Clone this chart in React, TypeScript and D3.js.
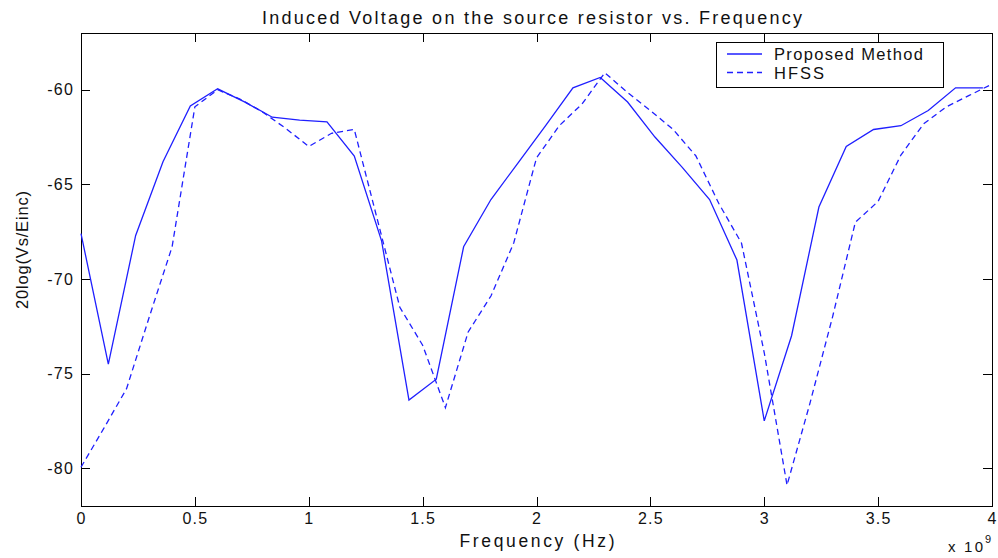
import * as d3 from "d3";
import { useEffect, useRef } from "react";

// frequency in GHz (axis shows x 10^9), response in dB
const proposedFreq = [0, 0.12, 0.24, 0.36, 0.48, 0.6, 0.72, 0.84, 0.96, 1.08, 1.2, 1.32, 1.44, 1.56, 1.68, 1.8, 1.92, 2.04, 2.16, 2.28, 2.4, 2.52, 2.64, 2.76, 2.88, 3.0, 3.12, 3.24, 3.36, 3.48, 3.6, 3.72, 3.84, 3.96];
const proposedVal = [-67.6, -74.5, -67.7, -63.8, -60.85, -59.95, -60.65, -61.45, -61.6, -61.7, -63.5, -68.0, -76.4, -75.3, -68.3, -65.8, -63.85, -61.9, -59.9, -59.35, -60.65, -62.5, -64.1, -65.8, -69.0, -77.5, -73.0, -66.2, -63.0, -62.1, -61.9, -61.1, -59.9, -59.9];

const hfssFreq = [0, 0.1, 0.2, 0.3, 0.4, 0.5, 0.6, 0.7, 0.8, 0.9, 1.0, 1.1, 1.2, 1.3, 1.4, 1.5, 1.6, 1.7, 1.8, 1.9, 2.0, 2.1, 2.2, 2.3, 2.4, 2.5, 2.6, 2.7, 2.8, 2.9, 3.0, 3.1, 3.2, 3.3, 3.4, 3.5, 3.6, 3.7, 3.8, 3.9, 4.0];
const hfssVal = [-79.95, -77.9, -75.8, -72.0, -68.3, -60.9, -60.0, -60.5, -61.2, -62.05, -63.0, -62.3, -62.1, -66.8, -71.5, -73.5, -76.8, -72.8, -70.9, -68.1, -63.6, -61.9, -60.75, -59.1, -60.15, -61.1, -62.1, -63.5, -66.0, -68.1, -73.9, -80.9, -76.6, -72.0, -67.0, -65.9, -63.45, -61.8, -60.9, -60.3, -59.7];

const xTicks = [0, 0.5, 1, 1.5, 2, 2.5, 3, 3.5, 4];
const yTicks = [-80, -75, -70, -65, -60];
const legendLabels = ["Proposed Method", "HFSS"];

const FONT = "'Liberation Sans', Arial, sans-serif";
const BLUE = "#1f1fff";

export default function App() {
  const ref = useRef<SVGSVGElement>(null);

  useEffect(() => {
    const svg = d3.select(ref.current);
    svg.selectAll("*").remove();

    const left = 81, right = 992, top = 33, bottom = 506;

    const x = d3.scaleLinear().domain([0, 4]).range([left, right]);
    const y = d3.scaleLinear().domain([-82, -57]).range([bottom, top]);

    svg.append("rect").attr("width", 998).attr("height", 558).attr("fill", "#fff");

    // ticks pointing inwards on all four sides, labels only bottom/left
    const styleAxis = (g: any) => {
      g.select(".domain").remove();
      g.selectAll(".tick line").attr("stroke", "#000").attr("shape-rendering", "crispEdges");
      g.selectAll("text")
        .attr("fill", "#111")
        .style("font-family", FONT)
        .style("font-size", "16px")
        .style("letter-spacing", "1.2px");
    };

    svg.append("g")
      .attr("transform", `translate(0,${bottom})`)
      .call(d3.axisBottom(x).tickValues(xTicks).tickSizeInner(-9).tickSizeOuter(0).tickPadding(7).tickFormat((d: any) => String(d)))
      .call(styleAxis);
    svg.append("g")
      .attr("transform", `translate(0,${top})`)
      .call(d3.axisTop(x).tickValues(xTicks).tickSizeInner(-9).tickSizeOuter(0).tickFormat(() => ""))
      .call(styleAxis);
    svg.append("g")
      .attr("transform", `translate(${left},0)`)
      .call(d3.axisLeft(y).tickValues(yTicks).tickSizeInner(-9).tickSizeOuter(0).tickPadding(7).tickFormat((d: any) => String(d)))
      .call(styleAxis);
    svg.append("g")
      .attr("transform", `translate(${right},0)`)
      .call(d3.axisRight(y).tickValues(yTicks).tickSizeInner(-9).tickSizeOuter(0).tickFormat(() => ""))
      .call(styleAxis);

    svg.append("rect")
      .attr("x", left).attr("y", top)
      .attr("width", right - left).attr("height", bottom - top)
      .attr("fill", "none").attr("stroke", "#000").attr("stroke-width", 1)
      .attr("shape-rendering", "crispEdges");

    const line = d3.line<[number, number]>().x((d) => x(d[0])).y((d) => y(d[1]));

    svg.append("path")
      .datum(proposedFreq.map((f, i) => [f, proposedVal[i]] as [number, number]))
      .attr("d", line)
      .attr("fill", "none").attr("stroke", BLUE).attr("stroke-width", 1.3);

    svg.append("path")
      .datum(hfssFreq.map((f, i) => [f, hfssVal[i]] as [number, number]))
      .attr("d", line)
      .attr("fill", "none").attr("stroke", BLUE).attr("stroke-width", 1.3)
      .attr("stroke-dasharray", "6,4");

    // legend
    const lg = svg.append("g");
    lg.append("rect")
      .attr("x", 716).attr("y", 42).attr("width", 227).attr("height", 45)
      .attr("fill", "#fff").attr("stroke", "#000").attr("shape-rendering", "crispEdges");
    legendLabels.forEach((lab, i) => {
      const ly = 54 + i * 18.5;
      lg.append("line")
        .attr("x1", 727).attr("x2", 762).attr("y1", ly).attr("y2", ly)
        .attr("stroke", BLUE).attr("stroke-width", 1.3)
        .attr("stroke-dasharray", i === 1 ? "6,4" : null);
      lg.append("text")
        .attr("x", 774).attr("y", ly + 6)
        .attr("textLength", i === 0 ? 149 : 50).attr("lengthAdjust", "spacing")
        .style("font-family", FONT).style("font-size", "16.5px").attr("fill", "#111")
        .text(lab);
    });

    // title and labels
    svg.append("text")
      .attr("x", 532).attr("y", 24).attr("text-anchor", "middle")
      .attr("textLength", 540).attr("lengthAdjust", "spacing")
      .style("font-family", FONT).style("font-size", "18px").attr("fill", "#111")
      .text("Induced Voltage on the source resistor vs. Frequency");

    svg.append("text")
      .attr("x", 537).attr("y", 547).attr("text-anchor", "middle")
      .attr("textLength", 155).attr("lengthAdjust", "spacing")
      .style("font-family", FONT).style("font-size", "17.5px").attr("fill", "#111")
      .text("Frequency (Hz)");

    svg.append("text")
      .attr("transform", "translate(28,250) rotate(-90)")
      .attr("text-anchor", "middle")
      .attr("textLength", 118).attr("lengthAdjust", "spacing")
      .style("font-family", FONT).style("font-size", "16.5px").attr("fill", "#111")
      .text("20log(Vs/Einc)");

    svg.append("text")
      .attr("x", 948).attr("y", 552)
      .attr("textLength", 35).attr("lengthAdjust", "spacing")
      .style("font-family", FONT).style("font-size", "15px").attr("fill", "#111")
      .text("x 10");
    svg.append("text")
      .attr("x", 985).attr("y", 543)
      .style("font-family", FONT).style("font-size", "11px").attr("fill", "#111")
      .text("9");
  }, []);

  return (
    <svg
      ref={ref}
      width={998}
      height={558}
      style={{ position: "absolute", left: 0, top: 0 }}
    />
  );
}
